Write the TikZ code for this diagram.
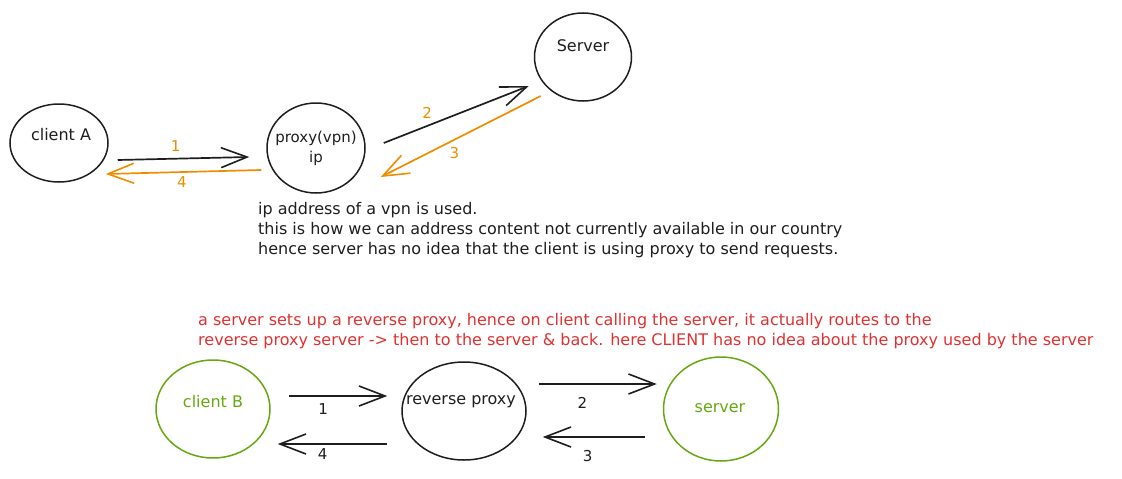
\documentclass[tikz,border=0pt]{standalone}
\usepackage{fontspec}
\setmainfont{DejaVu Sans}
\usetikzlibrary{shapes.geometric, arrows.meta, calc}
\definecolor{cink}{HTML}{1E1E1E}
\definecolor{cgreen}{HTML}{66A80F}
\definecolor{corange}{HTML}{F08C00}
\definecolor{cred}{HTML}{E03131}
\tikzset{
  bub/.style={draw=cink, ellipse, line width=1.5pt, inner sep=0pt},
  tx/.style={font=\fontsize{16}{20}\selectfont, text=cink, inner sep=0pt, align=center},
  num/.style={font=\fontsize{15}{20}\selectfont, text=corange, inner sep=0pt},
  fl/.style={-{Straight Barb[length=26pt, width=20pt, line width=1.6pt]}, line width=1.7pt, draw=cink},
}
\begin{document}
\begin{tikzpicture}[x=1pt, y=-1pt]
  \useasboundingbox (0,0) rectangle (1122,479);
  % ---------- forward proxy ----------
  \begin{scope}
    \node[bub, minimum width=98pt, minimum height=78pt] (ca) at (59,143) {};
    \node[tx] (catx) at (61,135) {client A};
    \node[bub, minimum width=98pt, minimum height=90pt] (pv) at (316,148) {};
    \node[tx, font=\fontsize{15}{20}\selectfont] (pvtx) at (316,148) {proxy(vpn)\\ip};
    \node[bub, minimum width=97pt, minimum height=88pt] (sv) at (583,57) {};
    \node[tx] (svtx) at (583,46) {Server};
    \draw[fl] ($(ca.east)+(9,17)$) -- node[num, pos=.44, above=6pt] (n1) {1} ($(pv.west)+(-17,9)$);
    \draw[fl, draw=corange] ($(pv.west)+(-5,22)$) -- node[num, pos=.51, below=4pt] (n4) {4} ($(ca.east)+(-3,31)$);
    \draw[fl] ($(pv.east)+(18,-5)$) -- node[num, pos=.3, above=7pt] (n2) {2} ($(sv.west)+(-5,29)$);
    \draw[fl, draw=corange] ($(sv.west)+(7,39)$) -- node[num, pos=.54, below=7pt] (n3) {3} ($(pv.east)+(15,29)$);
    \node[tx, anchor=north west, align=left] (note) at (258,202)
      {ip address of a vpn is used.\\
       this is how we can address content not currently available in our country\\
       hence server has no idea that the client is using proxy to send requests.};
  \end{scope}
  % ---------- reverse proxy ----------
  \begin{scope}
    \node[tx, text=cred, anchor=north west, align=left] (rnote) at (198,313)
      {a server sets up a reverse proxy, hence on client calling the server, it actually routes to the\\
       reverse proxy server -> then to the server \& back. here CLIENT has no idea about the proxy used by the server};
    \node[bub, draw=cgreen, minimum width=114pt, minimum height=98pt] (cb) at (213,409) {};
    \node[tx, text=cgreen] (cbtx) at (213,402) {client B};
    \node[bub, minimum width=124pt, minimum height=98pt] (rp) at (464,411) {};
    \node[tx] (rptx) at (461,402) {reverse proxy};
    \node[bub, draw=cgreen, minimum width=115pt, minimum height=104pt] (sb) at (721,409) {};
    \node[tx, text=cgreen] (sbtx) at (720,408) {server};
    \draw[fl] ($(cb.east)+(18,-13)$) -- node[num, text=cink, pos=.35, below=7pt] (b1) {1} ($(rp.west)+(-14,-15)$);
    \draw[fl] ($(rp.east)+(12,-27)$) -- node[num, text=cink, pos=.37, below=13pt] (b2) {2} ($(sb.west)+(-6,-25)$);
    \draw[fl] ($(sb.west)+(-18,28)$) -- node[num, text=cink, pos=.56, below=13pt] (b3) {3} ($(rp.east)+(16,26)$);
    \draw[fl] ($(rp.west)+(-14,33)$) -- node[num, text=cink, pos=.59, below=4pt] (b4) {4} ($(cb.east)+(7,35)$);
  \end{scope}
\end{tikzpicture}
\end{document}
